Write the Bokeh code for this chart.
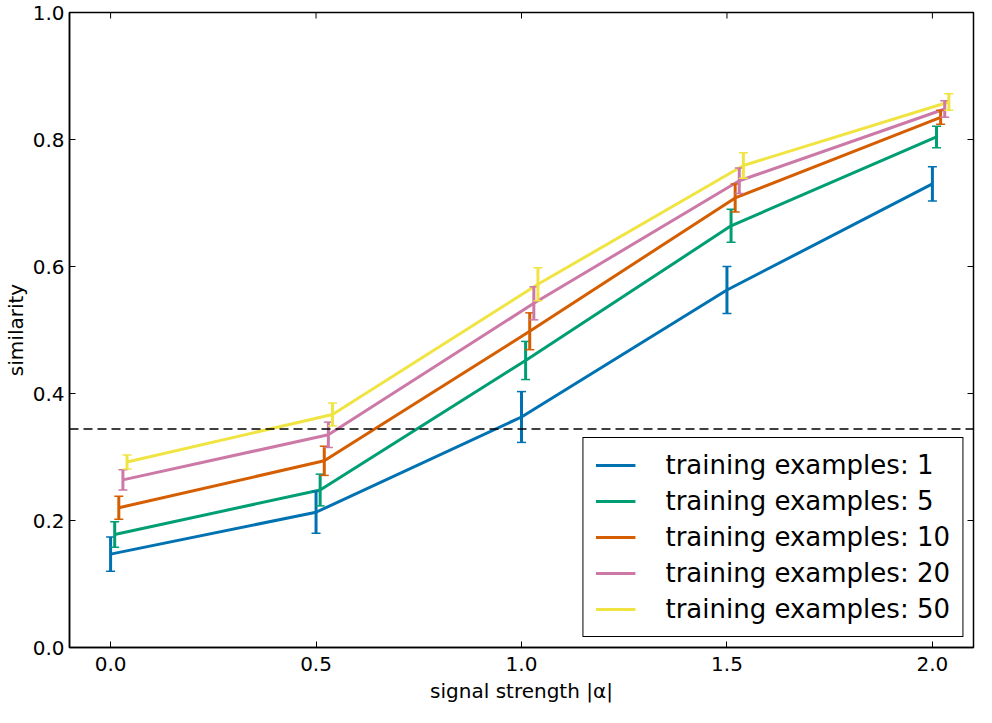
import math
from bokeh.plotting import figure
from bokeh.models import (ColumnDataSource, Whisker, TeeHead, Span, Legend, LegendItem,
                          FixedTicker, Range1d)
from bokeh.embed import file_html
from bokeh.resources import INLINE

# ---- data ----
signal_strength = [0.0, 0.5, 1.0, 1.5, 2.0]
x_offsets = [0.0, 0.01, 0.02, 0.03, 0.04]
series_labels = ["training examples: 1", "training examples: 5", "training examples: 10",
                 "training examples: 20", "training examples: 50"]
series_colors = ["#0072B2", "#009E73", "#D55E00", "#CC79A7", "#F0E442"]

sim_1 = [0.147, 0.213, 0.363, 0.563, 0.730]
err_1 = [0.027, 0.033, 0.040, 0.037, 0.027]
sim_5 = [0.178, 0.248, 0.452, 0.664, 0.804]
err_5 = [0.020, 0.025, 0.030, 0.026, 0.017]
sim_10 = [0.220, 0.294, 0.498, 0.708, 0.835]
err_10 = [0.018, 0.023, 0.029, 0.022, 0.011]
sim_20 = [0.264, 0.335, 0.542, 0.735, 0.848]
err_20 = [0.016, 0.020, 0.026, 0.020, 0.013]
sim_50 = [0.292, 0.367, 0.572, 0.759, 0.859]
err_50 = [0.011, 0.018, 0.026, 0.020, 0.013]

similarities = [sim_1, sim_5, sim_10, sim_20, sim_50]
errors = [err_1, err_5, err_10, err_20, err_50]
baseline = 0.344

x_ticks = [0.0, 0.5, 1.0, 1.5, 2.0]
y_ticks = [0.0, 0.2, 0.4, 0.6, 0.8, 1.0]
x_min, x_max = -0.1, 2.1
y_min, y_max = 0.0, 1.0

FONT = "DejaVu Sans"

p = figure(width=976, height=707, output_backend="svg", toolbar_location=None,
           x_range=Range1d(x_min, x_max), y_range=Range1d(y_min, y_max),
           min_border_left=60, min_border_right=3, min_border_top=12, min_border_bottom=60)
p.grid.visible = False
p.background_fill_color = "white"
p.border_fill_color = "white"
p.outline_line_color = "black"
p.outline_line_width = 1.5
p.outline_line_alpha = 1.0

for ax, ticks in ((p.xaxis[0], x_ticks), (p.yaxis[0], y_ticks)):
    ax.ticker = FixedTicker(ticks=ticks)
    ax.major_tick_in = 6
    ax.major_tick_out = 0
    ax.minor_tick_line_color = None
    ax.axis_line_color = "black"
    ax.axis_line_width = 1.5
    ax.major_tick_line_color = "black"
    ax.major_label_text_font = FONT
    ax.major_label_text_font_size = "20px"
    ax.major_label_text_color = "black"
    ax.axis_label_text_font = FONT
    ax.axis_label_text_font_size = "20px"
    ax.axis_label_text_font_style = "normal"
    ax.axis_label_text_color = "black"

p.xaxis[0].major_label_overrides = {t: f"{t:.1f}" for t in x_ticks}
p.yaxis[0].major_label_overrides = {t: f"{t:.1f}" for t in y_ticks}
p.xaxis[0].axis_label = "signal strength |α|"
p.yaxis[0].axis_label = "similarity"
p.xaxis[0].major_label_standoff = 9
p.yaxis[0].major_label_standoff = 5
p.xaxis[0].axis_label_standoff = 5
p.yaxis[0].axis_label_standoff = 2

# mirrored inward ticks on the top and right frame edges
p.ray(x=x_ticks, y=[y_max] * len(x_ticks), length=6, length_units="screen",
      angle=-math.pi / 2, line_color="black", line_width=1)
p.ray(x=[x_max] * len(y_ticks), y=y_ticks, length=6, length_units="screen",
      angle=math.pi, line_color="black", line_width=1)

p.add_layout(Span(location=baseline, dimension="width", line_color="black",
                  line_width=1.5, line_dash="9 5"))

items = []
for i in range(len(similarities)):
    xs = [x + x_offsets[i] for x in signal_strength]
    ys = similarities[i]
    es = errors[i]
    src = ColumnDataSource(dict(x=xs, y=ys,
                                upper=[a + b for a, b in zip(ys, es)],
                                lower=[a - b for a, b in zip(ys, es)]))
    r = p.line("x", "y", source=src, line_color=series_colors[i], line_width=3)
    w = Whisker(base="x", upper="upper", lower="lower", source=src, dimension="height",
                line_color=series_colors[i], line_width=3, level="glyph",
                upper_head=TeeHead(size=9, line_color=series_colors[i], line_width=1.5),
                lower_head=TeeHead(size=9, line_color=series_colors[i], line_width=1.5))
    p.add_layout(w)
    items.append(LegendItem(label=series_labels[i], renderers=[r]))

legend = Legend(items=items, location="bottom_right",
                label_text_font=FONT, label_text_font_size="26px", label_text_color="black",
                glyph_width=40, glyph_height=30, spacing=6, label_standoff=30,
                padding=12, margin=10,
                border_line_color="black", border_line_width=1.5, border_line_alpha=1.0,
                background_fill_color="white", background_fill_alpha=1.0)
p.add_layout(legend)

open("out.html", "w").write(file_html(p, INLINE))
